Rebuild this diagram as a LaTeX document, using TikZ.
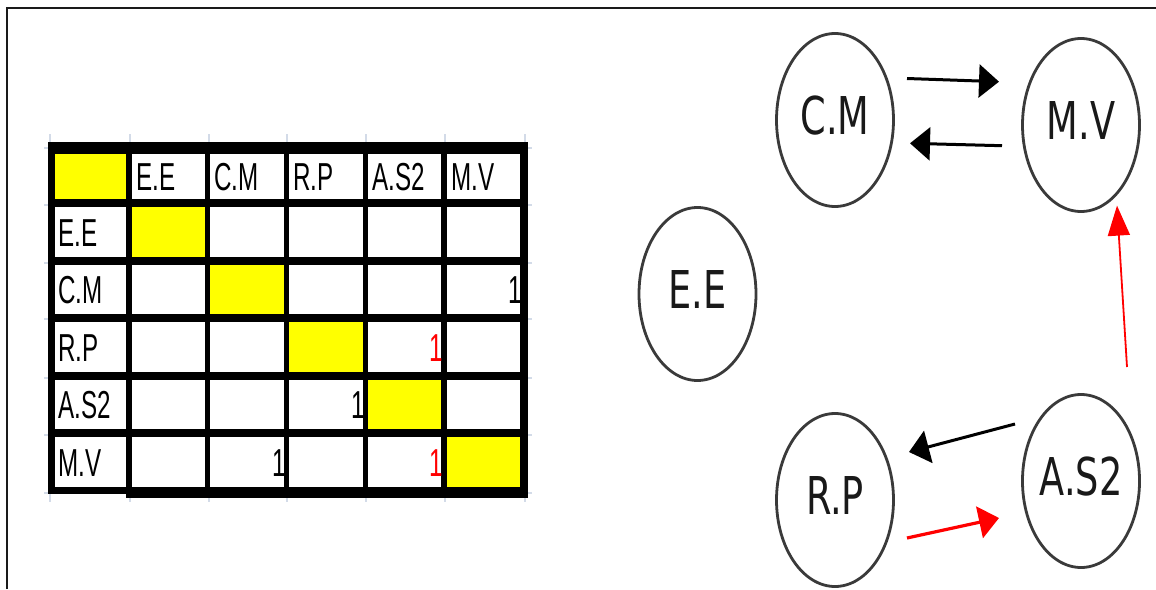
\documentclass[tikz,border=0pt]{standalone}
\usepackage{fontspec}
\setmainfont{DejaVu Sans}
\newfontfamily\tabfont{Liberation Sans}
\usetikzlibrary{shapes.geometric,arrows.meta,calc}
\definecolor{ylw}{HTML}{FFFF00}
\definecolor{rd}{HTML}{FF0000}
\definecolor{ring}{HTML}{3A3A3A}
\definecolor{tickc}{HTML}{D3DBE8}
\definecolor{framec}{HTML}{1A1A1A}
\newcommand\tabtx[1]{\scalebox{0.62}[1]{#1}}
\newcommand\circtx[1]{\scalebox{1}[1.42]{#1}}
\begin{document}
\begin{tikzpicture}[x=1pt,y=-1pt,
  state/.style={ellipse, draw=ring, line width=2.8pt, minimum width=117pt,
    minimum height=173pt, inner sep=0pt, text depth=9pt,
    font=\fontsize{36.7}{40}\selectfont, text=black!90},
  tabtxt/.style={inner sep=0pt, font=\tabfont\fontsize{39}{40}\selectfont},
  blkarrow/.style={draw=black, line width=3pt, -{Triangle[length=20pt,width=33pt]}},
  redthin/.style={draw=rd, line width=1.8pt, -{Triangle[length=30pt,width=22pt]}},
  redthick/.style={draw=rd, line width=3.2pt, -{Triangle[length=20pt,width=32pt]}},
  gridtick/.style={draw=tickc, line width=2pt}
]
\useasboundingbox (0,0) rectangle (1156,589);
\fill[white] (0,0) rectangle (1156,589);

% frame
\draw[framec, line width=2pt] (6.7,589) -- (6.7,7.5) -- (1156,7.5);

% spreadsheet grid ticks
\foreach \x in {50,130,209,287,366,445,525} {
  \draw[gridtick] (\x,134) -- (\x,142);
  \draw[gridtick] (\x,498) -- (\x,502);
}
\draw[gridtick] (50,494) -- (50,502);
\foreach \y in {148,205,263,319,378,435,493} {
  \draw[gridtick] (44,\y) -- (48,\y);
  \draw[gridtick] (528,\y) -- (532,\y);
}

% table body
\fill[black] (48,142) rectangle (528,494);
\fill[black] (126,494) rectangle (528,498);
\foreach \l/\r in {55/126,132/205,210/284,289/363,368/441,447/520}
  \foreach \t/\b in {154/199,207/257,265/314,322/372,380/429,437/487}
    \fill[white] (\l,\t) rectangle (\r,\b);
\fill[ylw] (55,154) rectangle (126,199);
\fill[ylw] (132,207) rectangle (205,257);
\fill[ylw] (210,265) rectangle (284,314);
\fill[ylw] (289,322) rectangle (363,372);
\fill[ylw] (368,380) rectangle (441,429);
\fill[ylw] (447,437) rectangle (520,487);

% header labels
\foreach \lab/\xl [count=\i] in {E.E/132,C.M/210,R.P/289,A.S2/368,M.V/447}
  \node[tabtxt, anchor=west] (h\i) at (\xl+4,177.5) {\tabtx{\lab}};
% row labels
\foreach \lab/\yy [count=\i] in {E.E/233,C.M/290.5,R.P/348,A.S2/405.5,M.V/463}
  \node[tabtxt, anchor=west] (r\i) at (58,\yy) {\tabtx{\lab}};
% entries
\node[tabtxt, anchor=east] (n1) at (522,290.5) {\tabtx{1}};
\node[tabtxt, anchor=east, text=rd] (n2) at (443,348) {\tabtx{1}};
\node[tabtxt, anchor=east] (n3) at (365,405.5) {\tabtx{1}};
\node[tabtxt, anchor=east] (n4) at (286,463) {\tabtx{1}};
\node[tabtxt, anchor=east, text=rd] (n5) at (443,463) {\tabtx{1}};

% graph nodes
\node[state] (cm) at (835,120) {\circtx{C.M}};
\node[state] (mv) at (1081,125) {\circtx{M.V}};
\node[state] (ee) at (697.5,294) {\circtx{E.E}};
\node[state] (rp) at (835,500) {\circtx{R.P}};
\node[state] (as) at (1081,481) {\circtx{A.S2}};

% connectors
\draw[blkarrow] ($(cm)+(72,-41.5)$) -- ($(mv)+(-82,-43.3)$);
\draw[blkarrow] ($(mv)+(-79,20.7)$) -- ($(cm)+(75,23.3)$);
\draw[redthin] ($(as)+(46,-114)$) -- ($(mv)+(36,80.6)$);
\draw[blkarrow] ($(as)+(-66,-57)$) -- ($(rp)+(74,-48)$);
\draw[redthick] ($(rp)+(72,38)$) -- ($(as)+(-82,37)$);
\end{tikzpicture}
\end{document}
